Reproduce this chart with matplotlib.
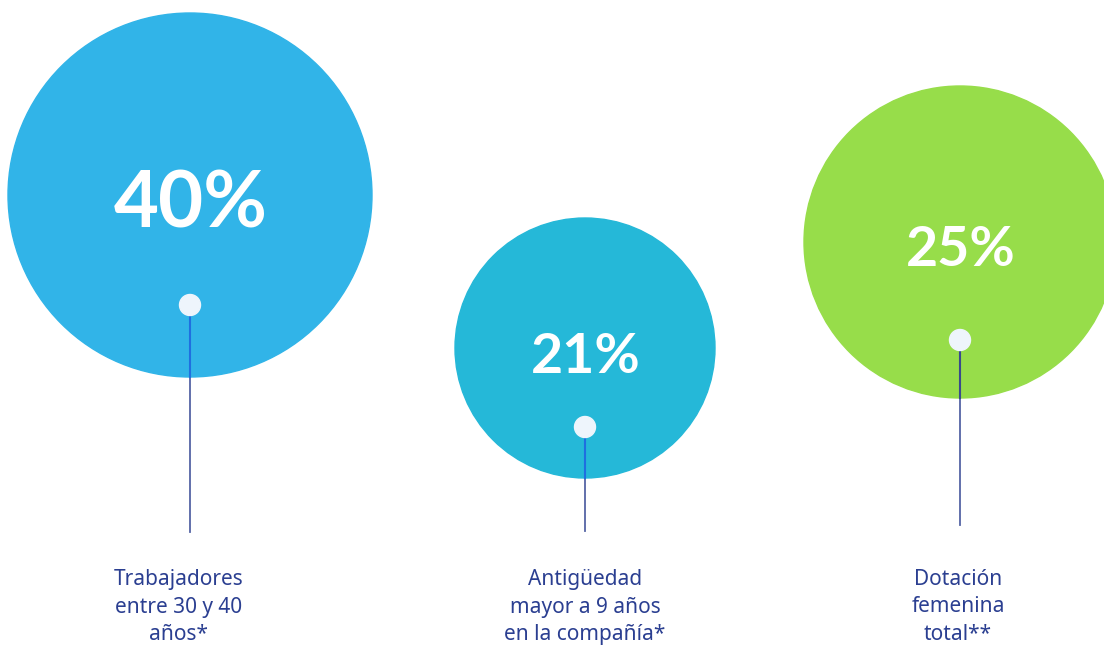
import matplotlib
matplotlib.use("Agg")
import matplotlib.pyplot as plt
from matplotlib.patches import Circle

# data
values = [40, 21, 25]
labels = [
    "Trabajadores\nentre 30 y 40\naños*",
    "Antigüedad\nmayor a 9 años\nen la compañía*",
    "Dotación\nfemenina\ntotal**",
]

# layout (pixel coordinates)
centers = [(190, 195), (585, 348), (960, 242)]
radii = [182, 130, 156]
dot_y = [305, 427, 340]
stem_end = [532, 531, 525]
label_x = [179, 585, 958]
text_sizes = [56, 40, 40]
text_dy = [10, 9, 8]
colors = ["#31b4e8", "#25b8d8", "#97dd4a"]
inner_line = ["#1f6fe0", "#1f6fe0", "#3a4a8c"]

plt.rcParams["font.family"] = ["Noto Sans", "DejaVu Sans"]

fig = plt.figure(figsize=(11.04, 6.46), dpi=100)
ax = fig.add_axes([0, 0, 1, 1])
ax.set_xlim(0, 1104)
ax.set_ylim(646, 0)
ax.set_aspect("equal")
ax.axis("off")

for i, v in enumerate(values):
    cx, cy = centers[i]
    r = radii[i]
    ax.add_patch(Circle((cx, cy), r, color=colors[i], zorder=1))
    # stem outside the circle
    ax.plot([cx, cx], [dot_y[i], stem_end[i]], color="#5565a5", lw=1.3, zorder=2)
    # stem inside the circle
    ax.plot([cx, cx], [dot_y[i], cy + r], color=inner_line[i], lw=1.5, zorder=3)
    ax.add_patch(Circle((cx, dot_y[i]), 10.5, color="#eef5fc", zorder=4))
    ax.text(cx + 1, cy + text_dy[i], f"{v}%", color="white", fontsize=text_sizes[i],
            family=["Lato", "DejaVu Sans"], fontweight="bold",
            ha="center", va="center", zorder=5)
    ax.text(label_x[i], 607, labels[i], color="#2b3f91", fontsize=15,
            ha="center", va="center", linespacing=1.38, zorder=5)

fig.savefig("out.png", dpi=100)
